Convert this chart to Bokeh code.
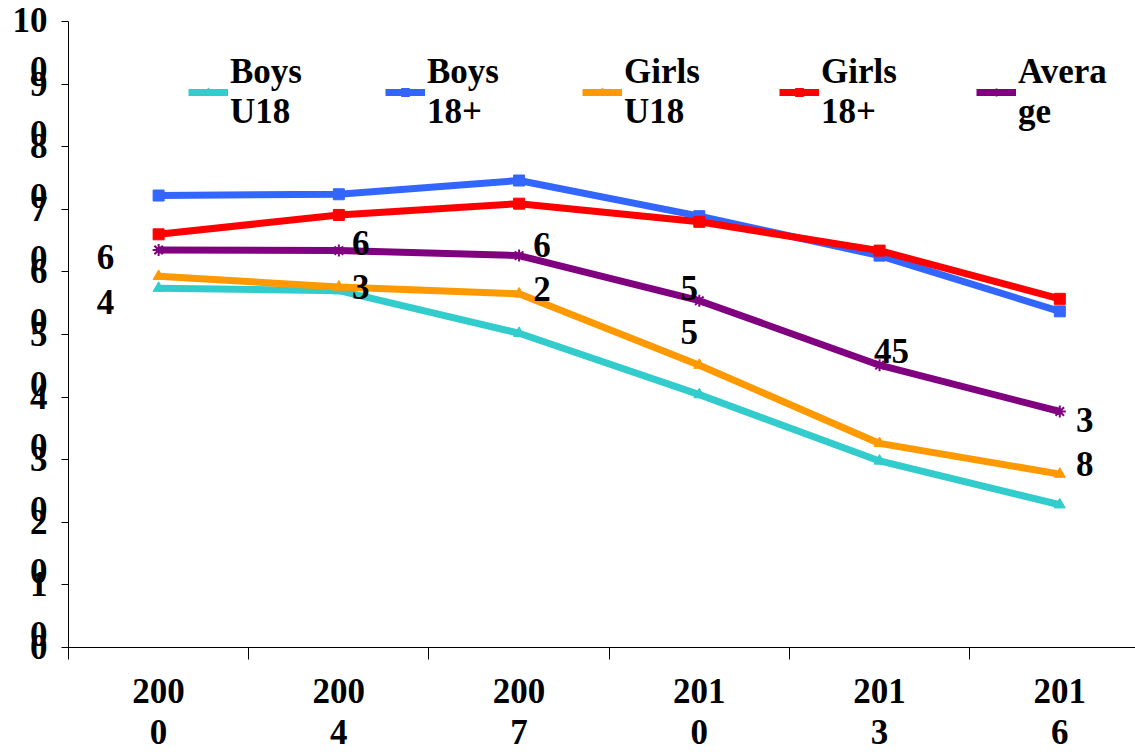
from bokeh.plotting import figure
from bokeh.models import Range1d, FixedTicker, LinearAxis, Legend, LegendItem
from bokeh.core.properties import value
from bokeh.embed import file_html
from bokeh.resources import INLINE

# ---- data ----
years = ["2000", "2004", "2007", "2010", "2013", "2016"]
x_tick_labels = ["200\n0", "200\n4", "200\n7", "201\n0", "201\n3", "201\n6"]
boys_u18 = [57.4, 57.0, 50.2, 40.4, 29.8, 22.8]
boys_18p = [72.2, 72.4, 74.6, 68.9, 62.6, 53.7]
girls_u18 = [59.3, 57.6, 56.5, 45.1, 32.6, 27.7]
girls_18p = [66.0, 69.1, 70.9, 68.0, 63.4, 55.7]
average = [63.5, 63.4, 62.6, 55.4, 45.1, 37.7]
avg_labels = ["6\n4", "6\n3", "6\n2", "5\n5", "45", "3\n8"]
y_ticks = [0, 10, 20, 30, 40, 50, 60, 70, 80, 90, 100]
y_tick_labels = ["0", "1\n0", "2\n0", "3\n0", "4\n0", "5\n0", "6\n0", "7\n0", "8\n0", "9\n0", "10\n0"]
series_names = ["Boys\nU18", "Boys\n18+", "Girls\nU18", "Girls\n18+", "Avera\nge"]

# ---- styles ----
FONT = "Liberation Serif"
colors = ["#33CCCC", "#3366FF", "#FF9900", "#FF0000", "#800080"]
markers = ["triangle", "square", "triangle", "square", "asterisk"]
label_dx = [-53, 22, 23, -10, 12, 25]
label_dy = [30, 15, 12, 10, -14, 31]

xs = list(range(len(years)))

p = figure(width=1135, height=754, output_backend="svg", toolbar_location=None,
           x_range=Range1d(-0.5, 5.42), y_range=Range1d(0, 100),
           x_axis_type=None, y_axis_type=None,
           min_border_left=68, min_border_right=0, min_border_top=21, min_border_bottom=107)
p.outline_line_color = None
p.background_fill_color = "white"
p.border_fill_color = "white"

# y axis (a leading blank line puts the first line at the tick; the top label
# is pushed inside the canvas by the layout anyway)
ylab = {}
for t, l in zip(y_ticks, y_tick_labels):
    ylab[t] = ("\n" + l) if ("\n" in l and t != y_ticks[-1]) else l
yaxis = LinearAxis(ticker=FixedTicker(ticks=y_ticks), major_label_overrides=ylab)
yaxis.major_tick_in = 0
yaxis.major_tick_out = 7
yaxis.minor_tick_line_color = None
yaxis.axis_line_color = "black"
yaxis.major_tick_line_color = "black"
yaxis.major_label_text_color = "black"
yaxis.major_label_text_font = FONT
yaxis.major_label_text_font_style = "bold"
yaxis.major_label_text_font_size = "35px"
yaxis.major_label_text_line_height = 1.27
yaxis.major_label_standoff = 14
p.add_layout(yaxis, "left")

# x axis: labels at category centres, ticks (minor) at category boundaries
bounds = [i - 0.5 for i in range(len(years) + 1)]
xaxis = LinearAxis(ticker=FixedTicker(ticks=xs, minor_ticks=bounds),
                   major_label_overrides={i: l for i, l in zip(xs, x_tick_labels)})
xaxis.axis_line_color = "black"
xaxis.major_tick_line_color = None
xaxis.major_tick_in = 0
xaxis.major_tick_out = 0
xaxis.minor_tick_line_color = "black"
xaxis.minor_tick_in = 0
xaxis.minor_tick_out = 12
xaxis.major_label_text_color = "black"
xaxis.major_label_text_font = FONT
xaxis.major_label_text_font_style = "bold"
xaxis.major_label_text_font_size = "35px"
xaxis.major_label_text_line_height = 1.06
xaxis.major_label_standoff = 12
p.add_layout(xaxis, "below")

series = [boys_u18, boys_18p, girls_u18, girls_18p, average]
items = []
for name, ys, c, m in zip(series_names, series, colors, markers):
    lr = p.line(xs, ys, line_color=c, line_width=7)
    if m == "asterisk":
        sr = p.scatter(xs, ys, marker=m, size=12, line_color=c, line_width=2)
    else:
        sr = p.scatter(xs, ys, marker=m, size=11, fill_color=c, line_color=c)
    items.append(LegendItem(label=name, renderers=[lr, sr]))

p.text(x=xs, y=average, text=avg_labels, x_offset=label_dx, y_offset=label_dy,
       text_font=value(FONT), text_font_style="bold", text_font_size="35px",
       text_align="center", text_baseline="middle", text_line_height=1.14,
       text_color="black")

legend = Legend(items=items, orientation="horizontal", location=(120, 515),
                label_text_font=FONT, label_text_font_style="bold",
                label_text_font_size="35px", label_text_color="black",
                label_text_line_height=1.3,
                glyph_width=40, glyph_height=20, label_standoff=2, label_width=155,
                spacing=0, padding=0, margin=0, border_line_color=None,
                background_fill_alpha=0)
p.add_layout(legend)

open("out.html", "w").write(file_html(p, INLINE))
